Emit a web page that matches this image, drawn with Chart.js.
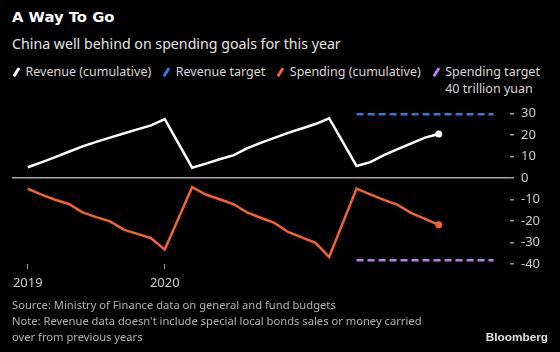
<!DOCTYPE html>
<html>
<head>
<meta charset="utf-8">
<script src="https://cdn.jsdelivr.net/npm/chart.js@4.4.0/dist/chart.umd.min.js"></script>
<style>
  html, body { margin: 0; padding: 0; background: #000; }
  body { width: 560px; height: 352px; position: relative; overflow: hidden; font-family: "Noto Sans", sans-serif; }
  #title { position: absolute; left: 12px; top: 8px; font: bold 14.8px/17px "DejaVu Sans", sans-serif; color: #fff; }
  #subtitle { position: absolute; left: 12px; top: 34px; font-size: 14.2px; line-height: 20px; color: #e6e6e6; white-space: nowrap; }
  #legend { position: absolute; left: 12px; top: 63px; display: flex; font-size: 12.5px; line-height: 17px; color: #d9d9d9; white-space: nowrap; }
  .item { display: flex; align-items: flex-start; margin-right: 11px; }
  .sw { width: 2.5px; height: 10px; transform: rotate(32deg); margin: 4px 8px 0 3px; border-radius: 1px; }
  #chart { position: absolute; left: 0; top: 0; }
  #notes { position: absolute; left: 12px; top: 297px; font-size: 11.2px; line-height: 16px; color: #b3b3b3; white-space: nowrap; }
  #brand { position: absolute; right: 12px; top: 330px; font: bold 11.8px "Liberation Sans", sans-serif; color: #e0e0e0; }
</style>
</head>
<body>
<div id="title">A Way To Go</div>
<div id="subtitle">China well behind on spending goals for this year</div>
<div id="legend"></div>
<canvas id="chart" width="560" height="352"></canvas>
<div id="notes">Source: Ministry of Finance data on general and fund budgets<br>Note: Revenue data doesn't include special local bonds sales or money carried<br>over from previous years</div>
<div id="brand">Bloomberg</div>

<script>
// monthly cumulative figures, trillion yuan (spending drawn below zero)
const periods = [
  '2019-02', '2019-03', '2019-04', '2019-05', '2019-06', '2019-07', '2019-08', '2019-09', '2019-10', '2019-11', '2019-12',
  '2020-02', '2020-03', '2020-04', '2020-05', '2020-06', '2020-07', '2020-08', '2020-09', '2020-10', '2020-11', '2020-12',
  '2021-02', '2021-03', '2021-04', '2021-05', '2021-06', '2021-07', '2021-08'
];
const revenue = [
  5.0, 7.3, 9.7, 12.2, 14.7, 16.8, 18.8, 20.7, 22.6, 24.5, 27.4,
  4.8, 6.7, 8.7, 10.5, 13.8, 16.3, 18.7, 21.0, 23.0, 25.1, 27.8,
  5.6, 7.4, 10.6, 13.4, 16.1, 18.8, 20.5
];
const spending = [
  -5.0, -7.7, -10.1, -12.1, -16.0, -18.2, -20.2, -24.0, -26.0, -28.0, -33.3,
  -4.3, -7.7, -9.9, -12.1, -16.0, -18.5, -20.9, -25.1, -27.6, -30.2, -36.7,
  -4.9, -7.6, -10.2, -12.5, -16.3, -19.0, -21.8
];
const targetPeriods = ['2021-02', '2021-12'];
const revenueTarget = [29.6, 29.6];
const spendingTarget = [-38.2, -38.2];

const yTicks = [30, 20, 10, 0, -10, -20, -30, -40];
const xTickPeriods = ['2019-02', '2019-12'];
const xTickLabels = ['2019', '2020'];

const seriesNames = ['Revenue (cumulative)', 'Revenue target', 'Spending (cumulative)', 'Spending target'];
const seriesColors = ['#ffffff', '#2a7de1', '#f26532', '#b681e8'];

// months counted from Jan 2019 = 1
const toMonth = p => (parseInt(p.slice(0, 4)) - 2019) * 12 + parseInt(p.slice(5, 7));
const pts = (ps, vs) => ps.map((p, i) => ({ x: toMonth(p), y: vs[i] }));
const lastDot = n => ctx => ctx.dataIndex === n - 1 ? 3.5 : 0;

// legend
const legend = document.getElementById('legend');
seriesNames.forEach((name, i) => {
  const item = document.createElement('div');
  item.className = 'item';
  const sw = document.createElement('div');
  sw.className = 'sw';
  sw.style.background = seriesColors[i];
  const txt = document.createElement('div');
  txt.textContent = name;
  if (i === 3) txt.innerHTML += '<br>40 trillion yuan';
  item.appendChild(sw);
  item.appendChild(txt);
  legend.appendChild(item);
});

const font = { family: 'Noto Sans', size: 13 };

new Chart(document.getElementById('chart'), {
  type: 'line',
  data: {
    datasets: [
      { data: pts(periods, revenue), borderColor: seriesColors[0], borderWidth: 2.5,
        pointRadius: lastDot(revenue.length), pointBackgroundColor: seriesColors[0], pointBorderWidth: 0 },
      { data: pts(targetPeriods, revenueTarget), borderColor: seriesColors[1], borderWidth: 2.5,
        borderDash: [7, 4], pointRadius: 0 },
      { data: pts(periods, spending), borderColor: seriesColors[2], borderWidth: 2.5,
        pointRadius: lastDot(spending.length), pointBackgroundColor: seriesColors[2], pointBorderWidth: 0 },
      { data: pts(targetPeriods, spendingTarget), borderColor: seriesColors[3], borderWidth: 2.5,
        borderDash: [7, 4], pointRadius: 0 }
    ]
  },
  options: {
    responsive: false,
    animation: false,
    devicePixelRatio: 1,
    layout: { padding: { left: 12, top: 92, right: 0, bottom: 58 } },
    plugins: { legend: { display: false }, tooltip: { enabled: false } },
    scales: {
      x: {
        type: 'linear', min: 0.85, max: 37.2,
        afterBuildTicks: s => { s.ticks = xTickPeriods.map(p => ({ value: toMonth(p) })); },
        afterFit: s => { s.height = 30; },
        border: { display: false },
        grid: { drawOnChartArea: false, color: '#9a9a9a', tickLength: 5 },
        ticks: { color: '#cccccc', font: font, padding: 6, maxRotation: 0, autoSkip: false,
          callback: (v, i) => xTickLabels[i] }
      },
      y: {
        position: 'right', min: -40, max: 40,
        afterBuildTicks: s => { s.ticks = yTicks.map(v => ({ value: v })); },
        afterFit: s => { s.width = 50; },
        border: { display: false },
        grid: {
          color: c => (c.tick && c.tick.value === 0) ? '#a8a8a8' : 'rgba(0,0,0,0)',
          tickColor: '#9a9a9a', tickLength: 4, lineWidth: 1.5
        },
        ticks: { color: '#cccccc', font: font, padding: 7 }
      }
    }
  }
});
</script>
</body>
</html>
